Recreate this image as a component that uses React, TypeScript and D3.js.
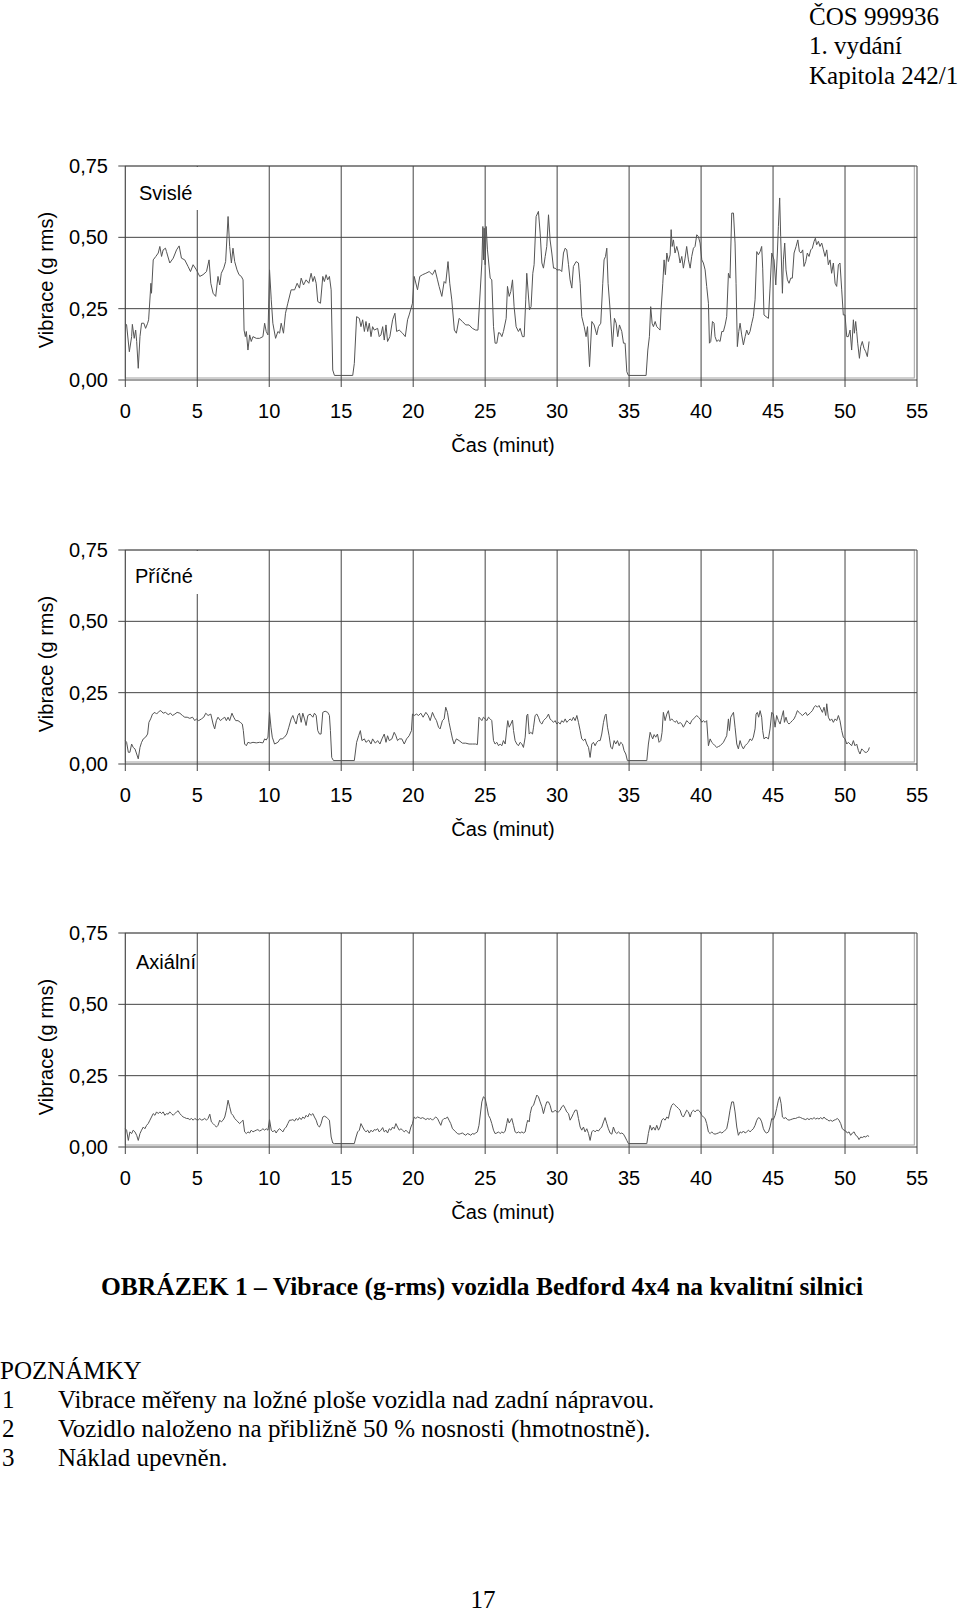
import React from 'react';
import * as d3 from 'd3';

// vibration traces, [minute, g rms]
const svisle: [number, number][] = [
  [0, 0.199], [0.09, 0.193], [0.28, 0.099], [0.44, 0.152], [0.49, 0.195], [0.62, 0.146], [0.72, 0.175], [0.79, 0.135],
  [0.9, 0.041], [1.02, 0.152], [1.13, 0.199], [1.29, 0.199], [1.41, 0.181], [1.55, 0.199], [1.62, 0.211], [1.78, 0.339],
  [1.82, 0.304], [1.94, 0.421], [2.12, 0.433], [2.29, 0.445], [2.4, 0.468], [2.52, 0.433], [2.63, 0.456], [2.79, 0.462],
  [2.86, 0.45], [3.09, 0.41], [3.33, 0.427], [3.56, 0.456], [3.74, 0.47], [3.9, 0.427], [4.13, 0.421], [4.36, 0.398],
  [4.53, 0.38], [4.71, 0.404], [4.94, 0.386], [5.17, 0.363], [5.4, 0.369], [5.64, 0.38], [5.82, 0.421], [5.94, 0.339],
  [6.1, 0.304], [6.28, 0.293], [6.44, 0.363], [6.56, 0.333], [6.67, 0.374], [6.84, 0.392], [6.97, 0.415], [7.14, 0.573],
  [7.25, 0.468], [7.37, 0.41], [7.48, 0.462], [7.6, 0.415], [7.76, 0.386], [7.9, 0.369], [8.06, 0.363], [8.18, 0.351],
  [8.25, 0.175], [8.34, 0.152], [8.41, 0.17], [8.52, 0.105], [8.64, 0.158], [8.75, 0.135], [8.87, 0.152], [9.1, 0.146],
  [9.33, 0.146], [9.56, 0.152], [9.68, 0.199], [9.79, 0.17], [9.91, 0.158], [10.02, 0.386], [10.14, 0.281], [10.25, 0.199],
  [10.44, 0.146], [10.6, 0.17], [10.72, 0.164], [10.83, 0.199], [10.99, 0.164], [11.13, 0.234], [11.29, 0.269], [11.52, 0.316],
  [11.76, 0.316], [11.94, 0.339], [12.1, 0.322], [12.22, 0.357], [12.38, 0.333], [12.56, 0.351], [12.75, 0.339], [12.91, 0.374],
  [13.03, 0.345], [13.14, 0.363], [13.26, 0.339], [13.37, 0.275], [13.56, 0.269], [13.72, 0.363], [13.83, 0.345], [13.95, 0.369],
  [14.06, 0.351], [14.18, 0.363], [14.3, 0.316], [14.41, 0.035], [14.53, 0.016], [15.8, 0.016], [15.91, 0.058], [16.07, 0.222],
  [16.26, 0.216], [16.37, 0.187], [16.49, 0.211], [16.61, 0.17], [16.72, 0.205], [16.84, 0.17], [16.95, 0.199], [17.07, 0.152],
  [17.18, 0.187], [17.3, 0.175], [17.53, 0.181], [17.64, 0.152], [17.76, 0.158], [17.88, 0.187], [17.99, 0.14], [18.11, 0.193],
  [18.22, 0.135], [18.38, 0.152], [18.57, 0.211], [18.73, 0.234], [18.85, 0.17], [19.03, 0.175], [19.26, 0.164], [19.45, 0.152],
  [19.61, 0.211], [19.72, 0.228], [19.95, 0.269], [20.07, 0.363], [20.3, 0.316], [20.46, 0.363], [20.65, 0.369], [20.88, 0.374],
  [21.11, 0.38], [21.34, 0.369], [21.52, 0.386], [21.69, 0.351], [21.8, 0.328], [21.99, 0.293], [22.15, 0.345], [22.26, 0.339],
  [22.42, 0.415], [22.54, 0.339], [22.68, 0.281], [22.86, 0.175], [23.0, 0.164], [23.19, 0.216], [23.42, 0.205], [23.65, 0.193],
  [23.88, 0.193], [24.11, 0.181], [24.34, 0.175], [24.5, 0.175], [24.77, 0.41], [24.84, 0.538], [24.88, 0.421], [24.93, 0.532],
  [25.0, 0.404], [25.07, 0.538], [25.16, 0.456], [25.35, 0.357], [25.46, 0.351], [25.58, 0.187], [25.69, 0.129], [25.81, 0.129],
  [25.93, 0.166], [26.04, 0.164], [26.16, 0.152], [26.27, 0.17], [26.46, 0.216], [26.55, 0.328], [26.67, 0.293], [26.78, 0.31],
  [26.9, 0.351], [27.01, 0.257], [27.15, 0.187], [27.31, 0.17], [27.43, 0.181], [27.59, 0.152], [27.71, 0.152], [27.82, 0.281],
  [27.89, 0.374], [28.08, 0.246], [28.19, 0.257], [28.31, 0.374], [28.4, 0.404], [28.54, 0.573], [28.7, 0.591], [28.82, 0.515],
  [28.94, 0.41], [29.05, 0.392], [29.17, 0.433], [29.28, 0.468], [29.4, 0.579], [29.51, 0.491], [29.63, 0.445], [29.75, 0.392],
  [29.86, 0.392], [29.98, 0.386], [30.21, 0.386], [30.32, 0.38], [30.44, 0.445], [30.56, 0.462], [30.67, 0.456], [30.79, 0.404],
  [30.9, 0.351], [31.02, 0.322], [31.13, 0.398], [31.32, 0.415], [31.48, 0.41], [31.6, 0.339], [31.71, 0.222], [31.88, 0.187],
  [32.01, 0.152], [32.11, 0.187], [32.25, 0.047], [32.41, 0.205], [32.57, 0.193], [32.75, 0.158], [32.87, 0.187], [33.03, 0.199],
  [33.17, 0.339], [33.26, 0.421], [33.36, 0.433], [33.45, 0.462], [33.54, 0.339], [33.68, 0.246], [33.84, 0.117], [33.98, 0.216],
  [34.1, 0.199], [34.21, 0.152], [34.33, 0.193], [34.49, 0.17], [34.61, 0.129], [34.72, 0.129], [34.84, 0.029], [34.95, 0.016],
  [36.18, 0.016], [36.3, 0.105], [36.41, 0.152], [36.5, 0.257], [36.6, 0.199], [36.69, 0.187], [36.81, 0.205], [36.92, 0.187],
  [37.04, 0.181], [37.15, 0.175], [37.22, 0.246], [37.34, 0.339], [37.43, 0.421], [37.52, 0.369], [37.62, 0.445], [37.73, 0.415],
  [37.85, 0.439], [37.92, 0.527], [37.99, 0.468], [38.08, 0.491], [38.19, 0.445], [38.31, 0.468], [38.43, 0.445], [38.54, 0.41],
  [38.66, 0.433], [38.77, 0.392], [38.89, 0.427], [39.0, 0.468], [39.12, 0.421], [39.24, 0.392], [39.35, 0.433], [39.47, 0.462],
  [39.58, 0.468], [39.7, 0.509], [39.81, 0.503], [39.93, 0.48], [40.05, 0.421], [40.16, 0.41], [40.28, 0.386], [40.39, 0.328],
  [40.51, 0.269], [40.58, 0.129], [40.67, 0.135], [40.79, 0.205], [40.9, 0.199], [40.97, 0.152], [41.09, 0.135], [41.2, 0.14],
  [41.32, 0.135], [41.44, 0.17], [41.55, 0.17], [41.67, 0.193], [41.78, 0.222], [41.9, 0.374], [42.01, 0.357], [42.13, 0.585],
  [42.25, 0.585], [42.36, 0.48], [42.43, 0.339], [42.52, 0.117], [42.62, 0.17], [42.71, 0.199], [42.82, 0.158], [42.94, 0.123],
  [43.06, 0.152], [43.17, 0.175], [43.29, 0.158], [43.4, 0.17], [43.52, 0.199], [43.63, 0.222], [43.75, 0.281], [43.87, 0.45],
  [43.98, 0.439], [44.1, 0.45], [44.21, 0.468], [44.28, 0.392], [44.37, 0.228], [44.51, 0.222], [44.68, 0.216], [44.79, 0.322],
  [44.91, 0.445], [45.07, 0.421], [45.19, 0.333], [45.3, 0.445], [45.37, 0.538], [45.46, 0.638], [45.53, 0.503], [45.65, 0.304],
  [45.72, 0.421], [45.81, 0.48], [45.9, 0.386], [46.0, 0.351], [46.11, 0.339], [46.23, 0.357], [46.34, 0.357], [46.46, 0.445],
  [46.6, 0.468], [46.72, 0.491], [46.83, 0.45], [46.94, 0.445], [47.06, 0.456], [47.15, 0.398], [47.27, 0.415], [47.38, 0.445],
  [47.5, 0.433], [47.62, 0.456], [47.73, 0.462], [47.85, 0.486], [47.94, 0.497], [48.03, 0.474], [48.15, 0.486], [48.26, 0.468],
  [48.38, 0.48], [48.5, 0.456], [48.61, 0.433], [48.73, 0.456], [48.84, 0.404], [48.96, 0.421], [49.07, 0.374], [49.19, 0.41],
  [49.31, 0.339], [49.42, 0.328], [49.54, 0.404], [49.65, 0.41], [49.77, 0.316], [49.88, 0.228], [50.0, 0.228], [50.12, 0.152],
  [50.23, 0.152], [50.35, 0.175], [50.46, 0.105], [50.58, 0.211], [50.65, 0.164], [50.74, 0.205], [50.81, 0.17], [50.88, 0.129],
  [51.0, 0.076], [51.09, 0.117], [51.2, 0.135], [51.32, 0.111], [51.44, 0.099], [51.55, 0.082], [51.67, 0.135],
];

const pricne: [number, number][] = [
  [0, 0.082], [0.09, 0.076], [0.21, 0.041], [0.32, 0.041], [0.44, 0.07], [0.55, 0.058], [0.67, 0.053], [0.79, 0.035],
  [0.9, 0.018], [1.02, 0.058], [1.13, 0.076], [1.25, 0.088], [1.41, 0.094], [1.55, 0.105], [1.64, 0.146], [1.76, 0.158],
  [1.89, 0.175], [2.06, 0.181], [2.17, 0.175], [2.36, 0.185], [2.47, 0.187], [2.63, 0.178], [2.79, 0.181], [2.98, 0.173],
  [3.14, 0.178], [3.28, 0.17], [3.44, 0.175], [3.6, 0.181], [3.79, 0.178], [3.97, 0.17], [4.13, 0.164], [4.3, 0.164],
  [4.48, 0.16], [4.67, 0.164], [4.83, 0.152], [4.94, 0.158], [5.1, 0.152], [5.29, 0.158], [5.45, 0.164], [5.59, 0.178],
  [5.75, 0.17], [5.94, 0.175], [6.1, 0.14], [6.21, 0.123], [6.33, 0.152], [6.44, 0.164], [6.61, 0.152], [6.74, 0.158],
  [6.91, 0.164], [7.02, 0.152], [7.14, 0.164], [7.25, 0.152], [7.41, 0.178], [7.53, 0.164], [7.67, 0.152], [7.83, 0.152],
  [7.99, 0.146], [8.13, 0.14], [8.2, 0.117], [8.29, 0.07], [8.41, 0.064], [8.52, 0.076], [8.68, 0.073], [8.87, 0.076],
  [9.1, 0.074], [9.33, 0.076], [9.56, 0.074], [9.68, 0.088], [9.79, 0.084], [9.91, 0.094], [10.02, 0.181], [10.12, 0.129],
  [10.21, 0.094], [10.37, 0.07], [10.6, 0.076], [10.76, 0.088], [10.9, 0.088], [11.06, 0.094], [11.22, 0.105], [11.36, 0.129],
  [11.52, 0.158], [11.64, 0.17], [11.76, 0.152], [11.87, 0.14], [11.99, 0.17], [12.1, 0.178], [12.22, 0.146], [12.33, 0.178],
  [12.45, 0.158], [12.56, 0.135], [12.68, 0.17], [12.84, 0.175], [13.03, 0.164], [13.14, 0.178], [13.26, 0.17], [13.37, 0.117],
  [13.49, 0.105], [13.6, 0.105], [13.72, 0.181], [13.88, 0.185], [14.06, 0.181], [14.18, 0.17], [14.25, 0.117], [14.34, 0.023],
  [14.46, 0.012], [15.91, 0.012], [16.07, 0.076], [16.21, 0.099], [16.33, 0.117], [16.44, 0.082], [16.61, 0.088], [16.72, 0.076],
  [16.91, 0.084], [17.07, 0.07], [17.18, 0.088], [17.37, 0.073], [17.53, 0.082], [17.69, 0.07], [17.83, 0.088], [17.99, 0.105],
  [18.11, 0.076], [18.22, 0.099], [18.34, 0.082], [18.52, 0.088], [18.68, 0.111], [18.8, 0.099], [18.91, 0.082], [19.03, 0.088],
  [19.21, 0.088], [19.38, 0.07], [19.54, 0.088], [19.72, 0.099], [19.88, 0.117], [19.95, 0.175], [20.07, 0.17], [20.23, 0.175],
  [20.37, 0.17], [20.53, 0.178], [20.69, 0.164], [20.88, 0.181], [21.04, 0.17], [21.18, 0.152], [21.34, 0.181], [21.48, 0.164],
  [21.62, 0.152], [21.76, 0.129], [21.87, 0.123], [22.03, 0.152], [22.15, 0.158], [22.26, 0.199], [22.38, 0.181], [22.49, 0.146],
  [22.61, 0.117], [22.73, 0.088], [22.84, 0.07], [23.0, 0.088], [23.19, 0.082], [23.42, 0.073], [23.65, 0.073], [23.88, 0.07],
  [24.11, 0.07], [24.34, 0.07], [24.46, 0.068], [24.57, 0.164], [24.77, 0.152], [24.88, 0.164], [25.0, 0.158], [25.12, 0.152],
  [25.23, 0.164], [25.35, 0.158], [25.46, 0.152], [25.58, 0.082], [25.69, 0.07], [25.81, 0.076], [25.93, 0.064], [26.04, 0.07],
  [26.16, 0.064], [26.27, 0.082], [26.39, 0.07], [26.5, 0.123], [26.57, 0.152], [26.67, 0.129], [26.78, 0.14], [26.9, 0.154],
  [26.97, 0.117], [27.08, 0.082], [27.2, 0.07], [27.31, 0.064], [27.43, 0.076], [27.55, 0.07], [27.66, 0.058], [27.78, 0.094],
  [27.89, 0.17], [27.96, 0.175], [28.06, 0.105], [28.17, 0.111], [28.29, 0.105], [28.36, 0.129], [28.47, 0.17], [28.59, 0.175],
  [28.7, 0.164], [28.82, 0.146], [28.94, 0.14], [29.05, 0.152], [29.17, 0.158], [29.28, 0.164], [29.4, 0.175], [29.51, 0.158],
  [29.63, 0.152], [29.75, 0.146], [29.86, 0.152], [29.98, 0.14], [30.09, 0.146], [30.21, 0.14], [30.32, 0.152], [30.44, 0.146],
  [30.56, 0.158], [30.67, 0.146], [30.79, 0.152], [30.9, 0.158], [31.02, 0.152], [31.13, 0.164], [31.25, 0.152], [31.37, 0.17],
  [31.48, 0.146], [31.6, 0.117], [31.71, 0.088], [31.83, 0.082], [31.94, 0.088], [32.06, 0.07], [32.18, 0.058], [32.29, 0.023],
  [32.41, 0.07], [32.52, 0.076], [32.64, 0.064], [32.75, 0.076], [32.87, 0.082], [32.99, 0.082], [33.1, 0.105], [33.22, 0.146],
  [33.33, 0.17], [33.4, 0.175], [33.5, 0.129], [33.61, 0.099], [33.73, 0.058], [33.84, 0.053], [33.96, 0.082], [34.07, 0.07],
  [34.19, 0.082], [34.31, 0.064], [34.42, 0.076], [34.54, 0.07], [34.65, 0.047], [34.77, 0.035], [34.88, 0.012], [36.23, 0.012],
  [36.34, 0.07], [36.46, 0.111], [36.55, 0.099], [36.64, 0.088], [36.74, 0.103], [36.85, 0.094], [36.97, 0.105], [37.08, 0.076],
  [37.2, 0.082], [37.29, 0.111], [37.38, 0.181], [37.5, 0.152], [37.62, 0.175], [37.73, 0.187], [37.85, 0.152], [37.96, 0.158],
  [38.08, 0.152], [38.19, 0.146], [38.31, 0.152], [38.43, 0.14], [38.54, 0.146], [38.66, 0.14], [38.77, 0.129], [38.89, 0.14],
  [39.0, 0.152], [39.12, 0.146], [39.24, 0.14], [39.35, 0.152], [39.47, 0.158], [39.58, 0.164], [39.7, 0.17], [39.81, 0.164],
  [39.93, 0.158], [40.05, 0.146], [40.16, 0.152], [40.28, 0.146], [40.39, 0.152], [40.51, 0.064], [40.63, 0.088], [40.74, 0.076],
  [40.86, 0.07], [40.97, 0.064], [41.09, 0.058], [41.2, 0.061], [41.32, 0.064], [41.44, 0.07], [41.55, 0.076], [41.67, 0.088],
  [41.78, 0.099], [41.9, 0.158], [41.97, 0.117], [42.06, 0.164], [42.18, 0.175], [42.25, 0.181], [42.36, 0.129], [42.48, 0.07],
  [42.59, 0.053], [42.71, 0.082], [42.82, 0.064], [42.94, 0.053], [43.06, 0.064], [43.17, 0.07], [43.29, 0.076], [43.4, 0.088],
  [43.52, 0.082], [43.63, 0.094], [43.75, 0.123], [43.82, 0.175], [43.91, 0.181], [44.0, 0.164], [44.1, 0.187], [44.21, 0.164],
  [44.28, 0.117], [44.37, 0.088], [44.51, 0.094], [44.68, 0.088], [44.79, 0.123], [44.91, 0.181], [45.02, 0.175], [45.14, 0.129],
  [45.25, 0.17], [45.37, 0.152], [45.49, 0.14], [45.6, 0.164], [45.72, 0.187], [45.79, 0.146], [45.9, 0.164], [46.0, 0.146],
  [46.11, 0.14], [46.23, 0.146], [46.34, 0.152], [46.46, 0.158], [46.57, 0.17], [46.69, 0.187], [46.81, 0.181], [46.92, 0.175],
  [47.04, 0.17], [47.15, 0.175], [47.27, 0.181], [47.38, 0.17], [47.5, 0.175], [47.62, 0.181], [47.73, 0.187], [47.85, 0.199],
  [47.96, 0.205], [48.08, 0.199], [48.19, 0.205], [48.31, 0.193], [48.43, 0.181], [48.54, 0.199], [48.66, 0.17], [48.73, 0.211],
  [48.84, 0.164], [48.96, 0.152], [49.07, 0.158], [49.19, 0.146], [49.31, 0.158], [49.42, 0.152], [49.54, 0.17], [49.65, 0.152],
  [49.77, 0.117], [49.88, 0.094], [50.0, 0.088], [50.12, 0.07], [50.23, 0.076], [50.35, 0.07], [50.46, 0.064], [50.58, 0.082],
  [50.69, 0.064], [50.81, 0.07], [50.93, 0.047], [51.04, 0.035], [51.16, 0.053], [51.27, 0.047], [51.39, 0.041], [51.5, 0.041],
  [51.62, 0.047], [51.69, 0.058],
];

const axialni: [number, number][] = [
  [0, 0.064], [0.09, 0.059], [0.21, 0.023], [0.32, 0.053], [0.44, 0.047], [0.55, 0.059], [0.67, 0.053], [0.79, 0.041],
  [0.9, 0.023], [1.02, 0.047], [1.13, 0.059], [1.25, 0.07], [1.36, 0.064], [1.48, 0.076], [1.59, 0.082], [1.71, 0.094],
  [1.82, 0.105], [1.94, 0.117], [2.06, 0.111], [2.17, 0.123], [2.29, 0.117], [2.4, 0.123], [2.52, 0.117], [2.63, 0.123],
  [2.75, 0.111], [2.86, 0.117], [2.98, 0.115], [3.09, 0.123], [3.21, 0.117], [3.33, 0.111], [3.44, 0.117], [3.56, 0.123],
  [3.67, 0.127], [3.79, 0.117], [3.9, 0.111], [4.02, 0.105], [4.13, 0.103], [4.25, 0.1], [4.36, 0.1], [4.48, 0.096],
  [4.6, 0.1], [4.71, 0.094], [4.83, 0.1], [4.94, 0.096], [5.06, 0.094], [5.17, 0.1], [5.29, 0.094], [5.4, 0.096],
  [5.52, 0.1], [5.64, 0.094], [5.75, 0.1], [5.87, 0.115], [5.98, 0.088], [6.1, 0.082], [6.21, 0.076], [6.33, 0.07],
  [6.44, 0.076], [6.56, 0.094], [6.67, 0.088], [6.79, 0.094], [6.91, 0.105], [7.02, 0.129], [7.14, 0.164], [7.25, 0.141],
  [7.37, 0.117], [7.48, 0.111], [7.6, 0.1], [7.71, 0.094], [7.83, 0.088], [7.94, 0.082], [8.06, 0.088], [8.18, 0.094],
  [8.29, 0.053], [8.41, 0.047], [8.52, 0.053], [8.64, 0.049], [8.75, 0.059], [8.87, 0.053], [8.98, 0.056], [9.1, 0.059],
  [9.21, 0.061], [9.33, 0.056], [9.45, 0.059], [9.56, 0.064], [9.68, 0.059], [9.79, 0.064], [9.91, 0.059], [10.02, 0.096],
  [10.14, 0.059], [10.25, 0.053], [10.37, 0.059], [10.48, 0.049], [10.6, 0.059], [10.72, 0.064], [10.83, 0.059], [10.95, 0.053],
  [11.06, 0.064], [11.18, 0.07], [11.29, 0.082], [11.41, 0.094], [11.52, 0.094], [11.64, 0.096], [11.76, 0.091], [11.87, 0.1],
  [11.99, 0.094], [12.1, 0.103], [12.22, 0.096], [12.33, 0.105], [12.45, 0.1], [12.56, 0.111], [12.68, 0.105], [12.79, 0.117],
  [12.91, 0.111], [13.03, 0.117], [13.14, 0.105], [13.26, 0.094], [13.37, 0.076], [13.49, 0.07], [13.6, 0.082], [13.72, 0.105],
  [13.83, 0.108], [13.95, 0.105], [14.06, 0.1], [14.18, 0.094], [14.3, 0.035], [14.41, 0.014], [14.53, 0.012], [15.91, 0.012],
  [16.03, 0.035], [16.14, 0.053], [16.26, 0.059], [16.37, 0.082], [16.49, 0.07], [16.61, 0.059], [16.72, 0.053], [16.84, 0.059],
  [16.95, 0.049], [17.07, 0.059], [17.18, 0.053], [17.3, 0.061], [17.41, 0.059], [17.53, 0.064], [17.64, 0.053], [17.76, 0.059],
  [17.88, 0.068], [17.99, 0.053], [18.11, 0.059], [18.22, 0.049], [18.34, 0.064], [18.45, 0.059], [18.57, 0.07], [18.68, 0.064],
  [18.8, 0.082], [18.91, 0.07], [19.03, 0.059], [19.15, 0.064], [19.26, 0.059], [19.38, 0.053], [19.49, 0.059], [19.61, 0.053],
  [19.72, 0.047], [19.84, 0.07], [19.95, 0.082], [20.07, 0.105], [20.18, 0.1], [20.3, 0.105], [20.42, 0.103], [20.53, 0.1],
  [20.65, 0.103], [20.76, 0.1], [20.88, 0.096], [20.99, 0.1], [21.11, 0.097], [21.22, 0.1], [21.34, 0.094], [21.45, 0.1],
  [21.57, 0.105], [21.69, 0.1], [21.8, 0.088], [21.92, 0.076], [22.03, 0.094], [22.15, 0.1], [22.26, 0.1], [22.38, 0.105],
  [22.49, 0.094], [22.61, 0.082], [22.73, 0.064], [22.84, 0.059], [22.96, 0.053], [23.07, 0.047], [23.19, 0.045], [23.3, 0.047],
  [23.42, 0.049], [23.53, 0.045], [23.65, 0.041], [23.76, 0.047], [23.88, 0.045], [24.0, 0.041], [24.11, 0.047], [24.23, 0.045],
  [24.34, 0.049], [24.46, 0.053], [24.57, 0.076], [24.77, 0.158], [24.88, 0.176], [25.0, 0.17], [25.12, 0.141], [25.23, 0.111],
  [25.35, 0.1], [25.46, 0.082], [25.58, 0.059], [25.69, 0.047], [25.81, 0.049], [25.93, 0.053], [26.04, 0.047], [26.16, 0.053],
  [26.27, 0.049], [26.39, 0.056], [26.5, 0.082], [26.57, 0.1], [26.67, 0.084], [26.78, 0.094], [26.85, 0.1], [26.97, 0.076],
  [27.08, 0.053], [27.2, 0.049], [27.31, 0.053], [27.43, 0.049], [27.55, 0.053], [27.66, 0.049], [27.78, 0.053], [27.89, 0.082],
  [27.96, 0.094], [28.06, 0.088], [28.13, 0.117], [28.24, 0.141], [28.36, 0.146], [28.47, 0.164], [28.59, 0.182], [28.7, 0.176],
  [28.82, 0.158], [28.94, 0.141], [29.05, 0.117], [29.17, 0.141], [29.28, 0.158], [29.4, 0.158], [29.51, 0.146], [29.63, 0.123],
  [29.75, 0.123], [29.86, 0.129], [29.98, 0.123], [30.09, 0.123], [30.21, 0.129], [30.32, 0.141], [30.44, 0.146], [30.56, 0.135],
  [30.67, 0.123], [30.79, 0.117], [30.9, 0.094], [31.02, 0.105], [31.13, 0.117], [31.25, 0.129], [31.37, 0.129], [31.48, 0.1],
  [31.6, 0.07], [31.71, 0.059], [31.83, 0.07], [31.94, 0.053], [32.06, 0.064], [32.18, 0.047], [32.29, 0.023], [32.41, 0.053],
  [32.52, 0.059], [32.64, 0.053], [32.75, 0.059], [32.87, 0.056], [32.99, 0.064], [33.1, 0.07], [33.22, 0.088], [33.33, 0.103],
  [33.45, 0.082], [33.56, 0.064], [33.68, 0.049], [33.8, 0.045], [33.91, 0.07], [34.03, 0.053], [34.14, 0.047], [34.26, 0.053],
  [34.38, 0.047], [34.49, 0.049], [34.61, 0.045], [34.72, 0.035], [34.84, 0.023], [34.95, 0.012], [36.23, 0.012], [36.34, 0.047],
  [36.46, 0.076], [36.57, 0.059], [36.69, 0.07], [36.81, 0.059], [36.92, 0.076], [37.04, 0.059], [37.15, 0.07], [37.27, 0.094],
  [37.38, 0.1], [37.5, 0.094], [37.62, 0.105], [37.73, 0.1], [37.85, 0.129], [37.96, 0.146], [38.08, 0.152], [38.19, 0.146],
  [38.31, 0.141], [38.43, 0.135], [38.54, 0.129], [38.66, 0.111], [38.77, 0.105], [38.89, 0.117], [39.0, 0.129], [39.12, 0.123],
  [39.24, 0.105], [39.35, 0.123], [39.47, 0.129], [39.58, 0.123], [39.7, 0.129], [39.81, 0.129], [39.93, 0.123], [40.05, 0.111],
  [40.16, 0.105], [40.28, 0.1], [40.39, 0.082], [40.51, 0.053], [40.63, 0.047], [40.74, 0.053], [40.86, 0.047], [40.97, 0.045],
  [41.09, 0.047], [41.2, 0.049], [41.32, 0.053], [41.44, 0.049], [41.55, 0.053], [41.67, 0.059], [41.78, 0.064], [41.9, 0.094],
  [42.01, 0.129], [42.13, 0.158], [42.25, 0.158], [42.36, 0.123], [42.48, 0.07], [42.59, 0.041], [42.71, 0.053], [42.82, 0.049],
  [42.94, 0.056], [43.06, 0.049], [43.17, 0.053], [43.29, 0.059], [43.4, 0.053], [43.52, 0.059], [43.63, 0.064], [43.75, 0.076],
  [43.87, 0.094], [43.98, 0.103], [44.1, 0.1], [44.21, 0.088], [44.33, 0.064], [44.44, 0.053], [44.56, 0.049], [44.68, 0.053],
  [44.79, 0.07], [44.91, 0.1], [45.02, 0.096], [45.14, 0.111], [45.25, 0.135], [45.37, 0.164], [45.46, 0.176], [45.56, 0.152],
  [45.65, 0.105], [45.76, 0.1], [45.88, 0.103], [46.0, 0.096], [46.11, 0.094], [46.23, 0.096], [46.34, 0.098], [46.46, 0.1],
  [46.57, 0.1], [46.69, 0.103], [46.81, 0.105], [46.92, 0.103], [47.04, 0.1], [47.15, 0.098], [47.27, 0.096], [47.38, 0.1],
  [47.5, 0.096], [47.62, 0.1], [47.73, 0.098], [47.85, 0.103], [47.96, 0.098], [48.08, 0.101], [48.19, 0.098], [48.31, 0.103],
  [48.43, 0.098], [48.54, 0.105], [48.66, 0.098], [48.77, 0.096], [48.89, 0.091], [49.0, 0.094], [49.12, 0.09], [49.24, 0.094],
  [49.35, 0.096], [49.47, 0.1], [49.58, 0.094], [49.7, 0.082], [49.81, 0.064], [49.93, 0.059], [50.05, 0.056], [50.16, 0.049],
  [50.28, 0.053], [50.39, 0.041], [50.51, 0.049], [50.63, 0.053], [50.74, 0.041], [50.86, 0.037], [50.97, 0.026], [51.09, 0.035],
  [51.2, 0.033], [51.32, 0.037], [51.44, 0.035], [51.55, 0.04], [51.67, 0.037],
];

const panelNames = ['Svislé', 'Příčné', 'Axiální'];
const xTicks = [0, 5, 10, 15, 20, 25, 30, 35, 40, 45, 50, 55];
const yTicks = [0, 0.25, 0.5, 0.75];
const headerLines = ['ČOS 999936', '1. vydání', 'Kapitola 242/1'];
const notes = [
  'Vibrace měřeny na ložné ploše vozidla nad zadní nápravou.',
  'Vozidlo naloženo na přibližně 50 % nosnosti (hmotnostně).',
  'Náklad upevněn.',
];

const sans = 'Liberation Sans, Arial, Helvetica, sans-serif';
const serif = 'Liberation Serif, Times New Roman, serif';

const panelTops = [166, 550, 933];
const panelH = 214;
const labelPos = [[139, 34], [135, 33], [136, 36]];

const x = d3.scaleLinear().domain([0, 55]).range([125.3, 917]);
const fmt = (v: number) => d3.format('.2f')(v).replace('.', ',');

function Panel({ top, idx, data }: { top: number; idx: number; data: [number, number][] }) {
  const y = d3.scaleLinear().domain([0, 0.75]).range([top + panelH, top]);
  const line = d3.line<[number, number]>().x(d => x(d[0])).y(d => y(d[1]));
  const y0 = y(0);
  const x0 = x(0);
  const xEnd = x(55);
  return (
    <g>
      <rect x={x0} y={top} width={xEnd - 2.7 - x0} height={y0 - 2 - top} fill="none" stroke="#a0a0a0" />
      {xTicks.map(t => (
        <line key={'v' + t} x1={x(t)} x2={x(t)} y1={top} y2={y0 + 7} stroke="#444" />
      ))}
      {yTicks.map(v => (
        <line key={'h' + v} x1={x0 - 7} x2={xEnd} y1={y(v)} y2={y(v)} stroke="#444" />
      ))}
      {idx < 2 && <rect x={131} y={top + 1} width={70} height={43} fill="#fff" />}
      <text x={labelPos[idx][0]} y={top + labelPos[idx][1]} fontFamily={sans} fontSize={20} fill="#000">
        {panelNames[idx]}
      </text>
      <path d={line(data) || ''} fill="none" stroke="#555" strokeWidth={1} />
      {yTicks.map(v => (
        <text key={'yl' + v} x={108} y={y(v) + 7} textAnchor="end" fontFamily={sans} fontSize={20}>
          {fmt(v)}
        </text>
      ))}
      {xTicks.map(t => (
        <text key={'xl' + t} x={x(t)} y={y0 + 38} textAnchor="middle" fontFamily={sans} fontSize={20}>
          {t}
        </text>
      ))}
      <text x={503} y={y0 + 72} textAnchor="middle" fontFamily={sans} fontSize={20}>
        Čas (minut)
      </text>
      <text transform={`translate(53, ${top + 114}) rotate(-90)`} textAnchor="middle" fontFamily={sans} fontSize={20}>
        Vibrace (g rms)
      </text>
    </g>
  );
}

export default function App() {
  const series = [svisle, pricne, axialni];
  return (
    <svg width={960} height={1614} style={{ position: 'absolute', left: 0, top: 0, background: '#fff' }}>
      <rect width={960} height={1614} fill="#fff" />
      {headerLines.map((s, i) => (
        <text key={s} x={809} y={24.5 + i * 29.8} fontFamily={serif} fontSize={25}>
          {s}
        </text>
      ))}
      {series.map((d, i) => (
        <Panel key={i} top={panelTops[i]} idx={i} data={d} />
      ))}
      <text x={101} y={1295} fontFamily={serif} fontSize={25.5} fontWeight="bold">
        OBRÁZEK 1 – Vibrace (g-rms) vozidla Bedford 4x4 na kvalitní silnici
      </text>
      <text x={0} y={1379} fontFamily={serif} fontSize={25}>
        POZNÁMKY
      </text>
      {notes.map((n, i) => (
        <g key={i}>
          <text x={2} y={1408 + i * 29} fontFamily={serif} fontSize={25}>
            {i + 1}
          </text>
          <text x={58} y={1408 + i * 29} fontFamily={serif} fontSize={25}>
            {n}
          </text>
        </g>
      ))}
      <text x={483} y={1608} textAnchor="middle" fontFamily={serif} fontSize={25}>
        17
      </text>
    </svg>
  );
}
